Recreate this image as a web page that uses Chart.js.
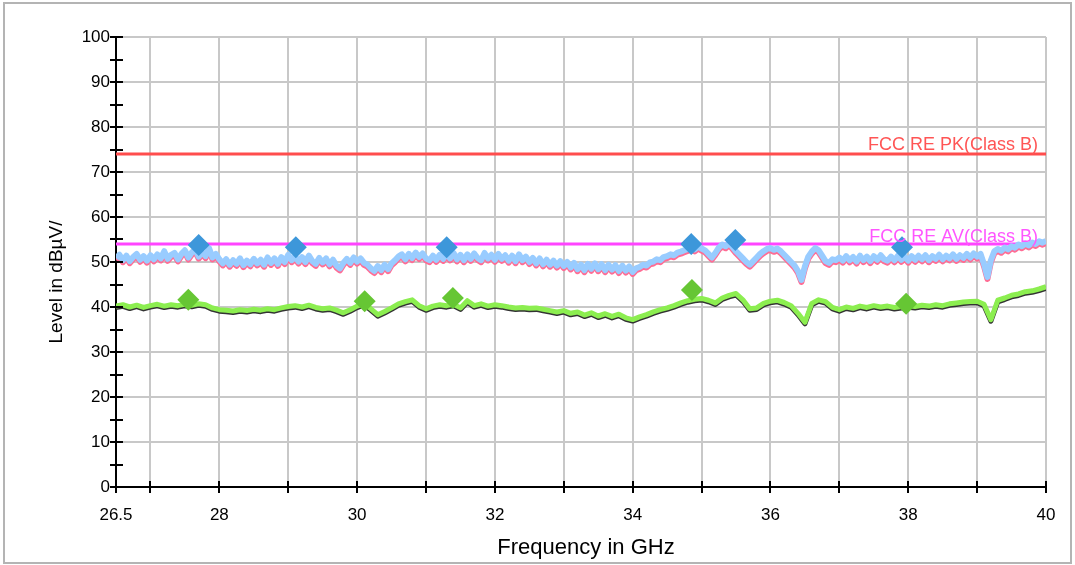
<!DOCTYPE html>
<html>
<head>
<meta charset="utf-8">
<script src="https://cdn.jsdelivr.net/npm/chart.js@4"></script>
<style>
html,body{margin:0;padding:0;background:#fff;}
#wrap{width:1075px;height:565px;position:relative;}
</style>
</head>
<body>
<div id="wrap"><canvas id="c" width="1075" height="565"></canvas></div>
<script>
// ---- data ----
const freqStartPk = 26.5, freqStepPk = 0.05;   // peak trace sweep grid (GHz)
const freqStartAv = 26.5, freqStepAv = 0.1;    // average trace sweep grid (GHz)
const peakTrace = [
 50.9,51.6,50.4,51.4,50.2,51.1,51.8,50.5,51.3,50.3,51.5,
 50.6,51.7,50.8,52.4,50.7,51.6,52.0,50.6,51.8,52.6,
 51.0,52.1,52.8,51.2,52.2,51.3,53.1,51.0,51.8,50.6,
 49.7,50.6,49.4,50.4,49.6,50.8,49.3,50.3,49.5,50.7,
 49.7,50.5,49.4,51.0,49.8,50.8,49.6,51.1,50.0,51.6,
 50.4,51.2,50.1,51.1,50.0,51.4,50.2,49.6,50.9,49.9,
 50.8,49.5,50.5,49.2,48.6,49.8,50.7,49.8,51.0,50.1,
 50.8,49.8,49.4,48.6,48.0,49.1,48.2,49.4,48.4,49.7,
 50.4,51.2,51.7,50.6,51.8,50.9,52.1,51.1,51.9,50.8,
 50.4,51.4,50.5,51.6,50.7,51.8,50.8,52.0,50.6,51.6,
 50.4,51.7,50.7,51.9,50.9,50.4,52.0,50.8,51.6,50.5,
 51.8,50.7,51.5,50.3,51.4,50.2,51.7,50.4,51.2,50.0,
 50.9,49.7,50.8,49.5,50.5,49.4,50.3,49.2,50.2,49.1,
 50.0,48.8,49.8,48.4,49.4,48.2,49.6,48.5,49.7,48.4,
 49.5,48.2,49.4,48.3,49.3,48.0,49.2,48.1,49.0,47.8,
 48.6,48.9,49.4,49.2,49.9,50.1,50.6,50.4,51.1,51.3,
 51.7,51.5,52.1,52.3,52.6,52.9,53.2,52.8,53.4,53.0,
 52.6,51.8,51.0,52.0,53.2,53.9,53.5,54.2,53.3,52.4,
 51.6,50.8,50.0,49.4,50.2,51.0,51.8,52.4,52.9,53.1,
 52.7,53.0,52.4,51.6,50.8,50.0,49.2,48.0,46.0,49.0,
 51.2,52.3,53.1,52.6,51.4,50.2,49.8,50.6,50.4,51.0,
 50.3,51.3,50.4,51.1,50.1,51.4,50.4,51.2,50.2,51.3,
 50.5,51.5,50.6,50.3,51.2,50.4,51.4,50.5,51.2,50.3,
 51.3,50.5,51.4,50.6,51.5,50.4,51.3,50.7,51.6,50.6,
 51.4,50.8,51.7,50.7,51.5,50.9,51.8,51.0,51.9,51.2,
 51.8,49.5,46.7,50.4,52.4,52.9,52.5,53.2,52.8,53.5,
 53.2,53.9,53.5,54.1,53.7,54.3,54.0,54.6,54.3,54.7
];
const avgTrace = [
 40.2,40.5,40.0,40.4,39.9,40.3,
 40.6,40.2,40.5,40.3,40.6,
 40.4,40.7,40.5,39.8,39.4,
 39.3,39.1,39.4,39.2,39.5,
 39.3,39.6,39.4,39.8,40.1,
 40.3,40.0,40.4,39.9,39.6,
 39.8,39.3,38.7,39.4,40.2,
 40.8,39.6,38.3,39.0,39.8,
 40.7,41.2,41.6,40.3,39.6,
 40.2,40.5,40.3,40.6,39.8,
 41.4,40.3,40.7,40.2,40.5,
 40.3,40.0,39.8,39.9,39.7,
 39.8,39.5,39.2,38.9,39.2,
 38.6,38.9,38.2,38.7,38.0,
 38.5,37.9,38.4,37.6,37.2,
 37.8,38.3,38.9,39.4,39.8,
 40.3,40.9,41.4,41.7,41.9,
 41.5,40.9,42.0,42.6,43.0,
 41.6,39.6,39.8,40.8,41.3,
 41.5,41.0,40.3,38.6,36.6,
 40.8,41.6,41.2,39.9,39.4,
 40.0,39.7,40.2,39.9,40.3,
 40.0,40.2,39.9,40.1,40.3,
 40.1,40.4,40.2,40.5,40.3,
 40.7,40.9,41.1,41.2,41.3,
 40.6,37.2,41.5,42.0,42.6,
 42.9,43.4,43.6,44.0,44.5
];
const peakMarkerFreq = [27.70, 29.11, 31.30, 34.85, 35.49, 37.91];
const peakMarkerLevel = [53.8, 53.3, 53.3, 54.0, 54.9, 53.3];
const avgMarkerFreq = [27.55, 30.11, 31.39, 34.86, 37.97];
const avgMarkerLevel = [41.6, 41.3, 42.0, 43.8, 40.7];
const limitPK = 74, limitAV = 54;
const limitPKLabel = 'FCC RE PK(Class B)';
const limitAVLabel = 'FCC RE AV(Class B)';
const xMin = 26.5, xMax = 40;
const xTickValues = [26.5,27,28,29,30,31,32,33,34,35,36,37,38,39,40];
const xLabelValues = [26.5,28,30,32,34,36,38,40];
const yMin = 0, yMax = 100, yStep = 5;
const xTitle = 'Frequency in GHz';
const yTitle = 'Level in dBµV/';

// ---- build ----
const pkPts = peakTrace.map((v,i)=>({x: +(freqStartPk + i*freqStepPk).toFixed(3), y: v}));
const avPts = avgTrace.map((v,i)=>({x: +(freqStartAv + i*freqStepAv).toFixed(3), y: v}));
const pkM = peakMarkerFreq.map((f,i)=>({x:f, y:peakMarkerLevel[i]}));
const avM = avgMarkerFreq.map((f,i)=>({x:f, y:avgMarkerLevel[i]}));

const FONT = '"Liberation Sans", Arial, sans-serif';

const shadowPlugin = {
  id:'shadow',
  beforeDatasetDraw(chart, args){
    const ds = chart.data.datasets[args.index];
    if (ds.shadowColor){
      const ctx = chart.ctx;
      ctx.save();
      ctx.shadowColor = ds.shadowColor;
      ctx.shadowOffsetX = 0;
      ctx.shadowOffsetY = ds.shadowOffset || 2;
      ctx.shadowBlur = 0;
    }
  },
  afterDatasetDraw(chart, args){
    const ds = chart.data.datasets[args.index];
    if (ds.shadowColor) chart.ctx.restore();
  }
};

const decorPlugin = {
  id:'decor',
  beforeDraw(chart){
    const ctx = chart.ctx;
    ctx.save();
    ctx.fillStyle='#fff';
    ctx.fillRect(0,0,chart.width,chart.height);
    ctx.strokeStyle='#b4b4b4';
    ctx.lineWidth=2;
    ctx.strokeRect(4,3,1067,560);
    ctx.restore();
  },
  afterDraw(chart){
    const ctx = chart.ctx;
    const xs = chart.scales.x, ys = chart.scales.y;
    const a = chart.chartArea;
    ctx.save();
    ctx.strokeStyle='#000';
    ctx.lineWidth=2;
    ctx.beginPath();
    for (let v=yMin; v<=yMax; v+=yStep){
      const y = Math.round(ys.getPixelForValue(v));
      ctx.moveTo(a.left-6, y); ctx.lineTo(a.left+7, y);
    }
    xTickValues.forEach(v=>{
      const x = Math.round(xs.getPixelForValue(v));
      ctx.moveTo(x, a.bottom-6); ctx.lineTo(x, a.bottom+6);
    });
    ctx.stroke();
    // axis titles
    ctx.fillStyle='#000';
    ctx.font = '22px ' + FONT;
    ctx.textAlign='center'; ctx.textBaseline='middle';
    ctx.fillText(xTitle, 586, 548);
    ctx.save();
    ctx.translate(57, 282);
    ctx.rotate(-Math.PI/2);
    ctx.font = '19px ' + FONT;
    ctx.fillText(yTitle, 0, 0);
    ctx.restore();
    // limit labels
    ctx.font = '18px ' + FONT;
    ctx.textAlign='right'; ctx.textBaseline='alphabetic';
    ctx.fillStyle='#ff5555';
    ctx.fillText(limitPKLabel, a.right-8, ys.getPixelForValue(limitPK)-4);
    ctx.fillStyle='#ff55ff';
    ctx.fillText(limitAVLabel, a.right-8, ys.getPixelForValue(limitAV)-2);
    ctx.restore();
  }
};

new Chart(document.getElementById('c'), {
  type:'line',
  data:{
    datasets:[
      {data:[{x:xMin,y:limitPK},{x:xMax,y:limitPK}], borderColor:'#ff4d4d', borderWidth:3, pointRadius:0, order:10},
      {data:[{x:xMin,y:limitAV},{x:xMax,y:limitAV}], borderColor:'#ff44ff', borderWidth:3, pointRadius:0, order:9},
      {data:pkPts, borderColor:'#99ccff', borderWidth:6, pointRadius:0, shadowColor:'#ff6c94', shadowOffset:2, order:6},
      {data:avPts, borderColor:'#8cee50', borderWidth:5, pointRadius:0, shadowColor:'#333333', shadowOffset:1.5, order:5},
      {data:pkM, showLine:false, pointStyle:'rectRot', pointRadius:11, backgroundColor:'#3d97da', borderColor:'#3d97da', borderWidth:0, order:2},
      {data:avM, showLine:false, pointStyle:'rectRot', pointRadius:11, backgroundColor:'#66c634', borderColor:'#66c634', borderWidth:0, order:1}
    ]
  },
  options:{
    responsive:false,
    animation:false,
    events:[],
    layout:{padding:{top:37, right:29, left:0, bottom:0}},
    plugins:{legend:{display:false}, tooltip:{enabled:false}},
    elements:{line:{tension:0, borderJoinStyle:'round'}},
    scales:{
      x:{
        type:'linear', min:xMin, max:xMax,
        afterBuildTicks(s){ s.ticks = xTickValues.map(v=>({value:v})); },
        afterFit(s){ s.height = 78; },
        grid:{color:'#c8c8c8', lineWidth:2, drawTicks:false},
        border:{display:true, color:'#000', width:2},
        ticks:{
          autoSkip:false, maxRotation:0, padding:18, color:'#000',
          font:{family:FONT, size:17},
          callback(v){ return xLabelValues.includes(v) ? String(v) : ''; }
        }
      },
      y:{
        type:'linear', min:yMin, max:yMax,
        afterFit(s){ s.width = 116; },
        grid:{color:'#c8c8c8', lineWidth:2, drawTicks:false},
        border:{display:true, color:'#000', width:2},
        ticks:{
          stepSize:yStep, padding:6, color:'#000',
          font:{family:FONT, size:17},
          callback(v){ return v % 10 === 0 ? String(v) : ''; }
        }
      }
    }
  },
  plugins:[shadowPlugin, decorPlugin]
});
</script>
</body>
</html>
